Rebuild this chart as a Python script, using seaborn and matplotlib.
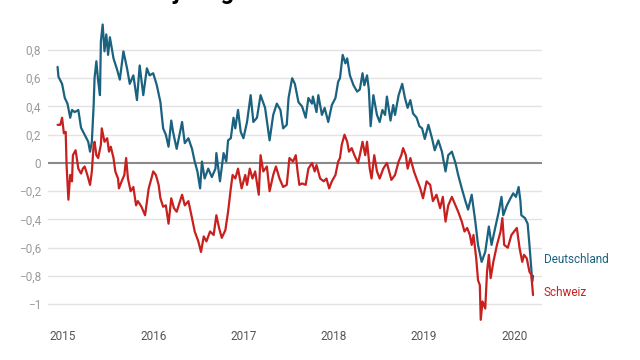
import matplotlib
matplotlib.use("Agg")
import matplotlib.pyplot as plt
import seaborn as sns
import pandas as pd

# Rendite in %, Zeit als Dezimaljahr
de_year = [2014.94, 2014.95, 2014.99, 2015.02, 2015.05, 2015.08, 2015.10, 2015.13, 2015.17, 2015.20,
           2015.24, 2015.28, 2015.30, 2015.32, 2015.34, 2015.35, 2015.37, 2015.39, 2015.41, 2015.42,
           2015.44, 2015.46, 2015.48, 2015.50, 2015.52, 2015.56, 2015.60, 2015.63, 2015.67, 2015.71,
           2015.74, 2015.78, 2015.82, 2015.85, 2015.89, 2015.93, 2015.96, 2016.00, 2016.04, 2016.08,
           2016.11, 2016.14, 2016.17, 2016.20, 2016.22, 2016.26, 2016.32, 2016.35, 2016.39, 2016.43,
           2016.46, 2016.49, 2016.52, 2016.54, 2016.57, 2016.61, 2016.65, 2016.69, 2016.70, 2016.74,
           2016.78, 2016.81, 2016.83, 2016.86, 2016.89, 2016.91, 2016.94, 2016.97, 2017.00, 2017.04,
           2017.08, 2017.11, 2017.15, 2017.19, 2017.24, 2017.29, 2017.33, 2017.37, 2017.41, 2017.44,
           2017.48, 2017.50, 2017.54, 2017.57, 2017.61, 2017.65, 2017.69, 2017.72, 2017.76, 2017.77,
           2017.81, 2017.83, 2017.87, 2017.90, 2017.94, 2017.98, 2018.02, 2018.05, 2018.07, 2018.10,
           2018.13, 2018.15, 2018.18, 2018.22, 2018.26, 2018.29, 2018.32, 2018.34, 2018.37, 2018.39,
           2018.41, 2018.44, 2018.48, 2018.51, 2018.54, 2018.57, 2018.59, 2018.63, 2018.66, 2018.68,
           2018.72, 2018.76, 2018.79, 2018.82, 2018.85, 2018.88, 2018.92, 2018.95, 2018.98, 2019.01,
           2019.05, 2019.09, 2019.12, 2019.16, 2019.20, 2019.24, 2019.27, 2019.31, 2019.35, 2019.38,
           2019.42, 2019.46, 2019.49, 2019.53, 2019.57, 2019.60, 2019.64, 2019.68, 2019.72, 2019.75,
           2019.79, 2019.83, 2019.86, 2019.88, 2019.92, 2019.96, 2019.99, 2020.02, 2020.05, 2020.07,
           2020.08, 2020.12, 2020.15, 2020.17, 2020.19, 2020.20, 2020.21]
de_yield = [0.68, 0.61, 0.56, 0.46, 0.42, 0.32, 0.375, 0.36, 0.375, 0.25,
            0.20, 0.15, 0.08, 0.15, 0.41, 0.60, 0.72, 0.58, 0.48, 0.86,
            0.98, 0.79, 0.91, 0.765, 0.89, 0.74, 0.66, 0.59, 0.79, 0.67,
            0.56, 0.62, 0.445, 0.69, 0.48, 0.67, 0.62, 0.635, 0.55, 0.43,
            0.245, 0.20, 0.115, 0.30, 0.22, 0.10, 0.29, 0.14, 0.175, 0.10,
            0.01, -0.06, -0.18, 0.01, -0.11, -0.04, -0.10, -0.04, 0.07, -0.13,
            0.07, 0.01, 0.16, 0.175, 0.32, 0.245, 0.375, 0.22, 0.175, 0.29,
            0.48, 0.29, 0.32, 0.48, 0.39, 0.16, 0.34, 0.42, 0.375, 0.245,
            0.27, 0.46, 0.60, 0.56, 0.43, 0.40, 0.32, 0.46, 0.42, 0.47,
            0.36, 0.48, 0.34, 0.39, 0.29, 0.41, 0.46, 0.575, 0.60, 0.765,
            0.705, 0.74, 0.62, 0.55, 0.505, 0.52, 0.635, 0.55, 0.62, 0.52,
            0.26, 0.48, 0.34, 0.29, 0.375, 0.34, 0.47, 0.30, 0.41, 0.34,
            0.48, 0.56, 0.46, 0.39, 0.445, 0.35, 0.32, 0.26, 0.245, 0.17,
            0.27, 0.175, 0.09, 0.16, 0.08, -0.06, 0.055, 0.08, 0.0, -0.085,
            -0.18, -0.27, -0.33, -0.225, -0.415, -0.58, -0.70, -0.63, -0.45, -0.58,
            -0.46, -0.345, -0.24, -0.37, -0.30, -0.25, -0.215, -0.24, -0.17, -0.27,
            -0.37, -0.39, -0.43, -0.58, -0.745, -0.84, -0.80]

ch_year = [2014.94, 2014.97, 2014.99, 2015.01, 2015.03, 2015.04, 2015.06, 2015.08, 2015.10, 2015.11,
           2015.14, 2015.17, 2015.20, 2015.22, 2015.24, 2015.27, 2015.30, 2015.32, 2015.34, 2015.35,
           2015.37, 2015.39, 2015.42, 2015.43, 2015.46, 2015.49, 2015.51, 2015.53, 2015.56, 2015.58,
           2015.61, 2015.62, 2015.65, 2015.68, 2015.70, 2015.72, 2015.75, 2015.78, 2015.81, 2015.83,
           2015.87, 2015.91, 2015.95, 2015.98, 2016.00, 2016.03, 2016.06, 2016.08, 2016.11, 2016.14,
           2016.17, 2016.20, 2016.23, 2016.26, 2016.32, 2016.35, 2016.39, 2016.43, 2016.46, 2016.50,
           2016.53, 2016.56, 2016.59, 2016.63, 2016.67, 2016.70, 2016.73, 2016.76, 2016.80, 2016.83,
           2016.86, 2016.88, 2016.91, 2016.94, 2016.98, 2017.02, 2017.04, 2017.07, 2017.10, 2017.13,
           2017.17, 2017.19, 2017.22, 2017.26, 2017.29, 2017.33, 2017.36, 2017.40, 2017.44, 2017.48,
           2017.51, 2017.55, 2017.58, 2017.60, 2017.62, 2017.65, 2017.69, 2017.72, 2017.76, 2017.79,
           2017.81, 2017.85, 2017.89, 2017.92, 2017.95, 2017.98, 2018.02, 2018.05, 2018.07, 2018.09,
           2018.12, 2018.15, 2018.17, 2018.20, 2018.23, 2018.27, 2018.29, 2018.32, 2018.35, 2018.37,
           2018.40, 2018.42, 2018.45, 2018.48, 2018.51, 2018.55, 2018.59, 2018.64, 2018.68, 2018.72,
           2018.75, 2018.77, 2018.80, 2018.82, 2018.85, 2018.89, 2018.93, 2018.96, 2018.99, 2019.03,
           2019.07, 2019.10, 2019.14, 2019.18, 2019.21, 2019.24, 2019.27, 2019.31, 2019.35, 2019.38,
           2019.42, 2019.45, 2019.48, 2019.51, 2019.53, 2019.55, 2019.58, 2019.60, 2019.62, 2019.63,
           2019.65, 2019.68, 2019.70, 2019.72, 2019.74, 2019.77, 2019.81, 2019.85, 2019.87, 2019.89,
           2019.93, 2019.97, 2020.00, 2020.03, 2020.06, 2020.09, 2020.11, 2020.14, 2020.17, 2020.19,
           2020.21]
ch_yield = [0.27, 0.27, 0.32, 0.21, 0.22, -0.015, -0.26, -0.085, -0.13, 0.055,
            0.09, -0.04, -0.075, -0.04, -0.025, -0.085, -0.155, -0.06, 0.13, 0.15,
            0.055, 0.035, 0.13, 0.245, 0.15, 0.175, 0.08, 0.115, 0.035, -0.06,
            -0.11, -0.18, -0.13, -0.085, 0.035, -0.11, -0.20, -0.17, -0.30, -0.27,
            -0.31, -0.37, -0.18, -0.11, -0.06, -0.085, -0.155, -0.25, -0.31, -0.30,
            -0.43, -0.25, -0.32, -0.345, -0.225, -0.30, -0.27, -0.39, -0.485, -0.555,
            -0.63, -0.52, -0.555, -0.485, -0.51, -0.37, -0.46, -0.53, -0.475, -0.345,
            -0.18, -0.085, -0.11, -0.04, -0.18, -0.085, -0.155, -0.04, -0.11, -0.06,
            -0.225, 0.055, -0.06, -0.025, -0.20, -0.085, -0.025, -0.11, -0.17, -0.155,
            0.035, 0.01, 0.055, -0.06, -0.155, -0.145, -0.155, -0.04, 0.0, -0.06,
            -0.015, -0.11, -0.13, -0.11, -0.18, -0.13, -0.085, 0.01, 0.035, 0.13,
            0.20, 0.15, 0.08, 0.105, 0.055, 0.0, 0.055, 0.15, 0.055, 0.15,
            -0.04, -0.11, 0.055, -0.06, -0.11, -0.04, 0.0, -0.12, -0.085, 0.01,
            0.055, 0.105, 0.055, -0.04, 0.035, -0.06, -0.13, -0.18, -0.25, -0.13,
            -0.155, -0.27, -0.225, -0.32, -0.24, -0.415, -0.30, -0.24, -0.30, -0.345,
            -0.415, -0.485, -0.46, -0.51, -0.58, -0.51, -0.675, -0.83, -0.865, -1.11,
            -0.98, -1.03, -0.77, -0.65, -0.815, -0.70, -0.58, -0.485, -0.39, -0.58,
            -0.60, -0.51, -0.485, -0.46, -0.60, -0.70, -0.65, -0.675, -0.77, -0.79,
            -0.935]

y_ticks = [-1, -0.8, -0.6, -0.4, -0.2, 0, 0.2, 0.4, 0.6, 0.8]
x_ticks = [2015, 2016, 2017, 2018, 2019, 2020]

blue = "#1b6280"
red = "#c8201e"

sns.set_theme(style="white")
plt.rcParams["font.family"] = ["Roboto", "DejaVu Sans"]

fig = plt.figure(figsize=(6.4, 3.6), dpi=100)
ax = fig.add_axes([0.075, 0.096, 0.772, 0.8438])

for y in y_ticks:
    if y != 0:
        ax.axhline(y, color="#e3e3e3", lw=1, zorder=0)
ax.axhline(0, color="#8a8a8a", lw=1.5, zorder=1)

sns.lineplot(x=de_year, y=de_yield, color=blue, lw=1.6, estimator=None, ax=ax, zorder=3)
sns.lineplot(x=ch_year, y=ch_yield, color=red, lw=1.6, estimator=None, ax=ax, zorder=3)

ax.set_xlim(2014.834, 2020.310)
ax.set_ylim(-1.15, 1.0)

def fmt(v):
    s = f"{abs(v):g}".replace(".", ",")
    return ("\u2212" + s) if v < 0 else s

ax.set_yticks(y_ticks)
ax.set_yticklabels([fmt(v) for v in y_ticks])
ax.set_xticks(x_ticks)
ax.set_xticklabels([str(v) for v in x_ticks])
ax.tick_params(axis="y", length=0, pad=5, labelsize=8.5, labelcolor="#9a9a9a")
ax.tick_params(axis="x", length=0, pad=3, labelsize=8.5, labelcolor="#555555")
ax.set_xlabel("")
ax.set_ylabel("")
sns.despine(ax=ax, left=True, bottom=True)

# Direktbeschriftung am Linienende
tr = ax.get_yaxis_transform()
ax.text(1.003, de_yield[-1] + 0.12, "Deutschland", color=blue, fontsize=8.5,
        va="center", ha="left", transform=tr)
ax.text(1.003, ch_yield[-1] + 0.02, "Schweiz", color=red, fontsize=8.5,
        va="center", ha="left", transform=tr)

# Titel, oben abgeschnitten wie im Original
fig.text(0.078, 1.004, "Rendite 10-jähriger Staatsanleihen", fontsize=17,
         fontweight="bold", color="black", va="baseline", ha="left")

fig.savefig("out.png", dpi=100)
